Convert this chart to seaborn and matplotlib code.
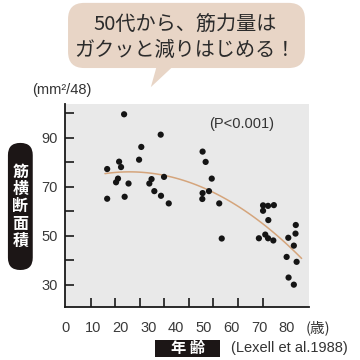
import numpy as np
import pandas as pd
import matplotlib
matplotlib.use("Agg")
import matplotlib.pyplot as plt
import seaborn as sns
from matplotlib.patches import FancyBboxPatch, Polygon, Rectangle

# scatter values (age in years, cross-sectional area)
ages = [15.2, 15.2, 21.3, 19.5, 20.2, 19.1, 18.4, 21.5, 22.9, 26.7, 27.5, 34.5,
        35.7, 31.2, 30.4, 32.2, 34.6, 37.4,
        49.6, 50.7, 52.9, 51.9, 49.6, 49.5, 55.6, 56.5,
        71.4, 73.2, 75.3, 71.4, 73.3, 69.9, 72.2, 73.2, 75.1,
        83.2, 83.1, 80.5, 82.5, 79.9, 83.5, 80.6, 82.5]
area = [77.2, 65.1, 99.5, 80.2, 78.0, 73.3, 71.8, 65.9, 71.3, 81.0, 86.2, 91.2,
        74.0, 73.1, 71.3, 68.2, 66.3, 63.2,
        84.3, 80.1, 73.3, 68.2, 67.4, 65.0, 63.2, 48.9,
        62.4, 62.2, 62.5, 60.2, 56.4, 49.0, 50.5, 49.0, 48.1,
        54.4, 50.9, 49.2, 46.0, 41.4, 39.4, 33.0, 30.1]

# points
curve_x = [14.4, 24.6, 35.4, 51.1, 63.1, 75.1, 85.3]
curve_y = [74.8, 76.5, 75.3, 68.8, 60.6, 51.8, 40.9]

x_labels = [0, 10, 20, 30, 40, 50, 60, 70, 80]
x_marks = [9.4, 18.0, 27.0, 35.7, 44.7, 53.3, 62.3, 71.4, 80.0]
y_labels = [30, 50, 70, 90]
y_minor = [40, 60, 80, 100]

df = pd.DataFrame({"age": ages, "area": area})

sns.set_theme(style="white")
plt.rcParams["font.family"] = ["Liberation Sans", "Noto Sans CJK JP", "DejaVu Sans"]
jp = ["Noto Sans CJK JP", "DejaVu Sans"]

fig = plt.figure(figsize=(3.6, 3.6), dpi=100)
ax = fig.add_axes([0.1806, 0.1472, 0.678, 0.564])
ax.set_facecolor("#e9e9e9")

sns.scatterplot(data=df, x="age", y="area", color="#151515", s=20,
                edgecolor="none", ax=ax, zorder=3)
sns.regplot(x=curve_x, y=curve_y, order=2, scatter=False, ci=None,
            truncate=True, color="#d5a57c", line_kws={"lw": 1.1}, ax=ax)

ax.set_xlim(0, 88)
ax.set_ylim(21, 103.7)
ax.set_xlabel("")
ax.set_ylabel("")

ax.set_xticks(x_labels)
ax.set_xticks(x_marks, minor=True)
ax.tick_params(axis="x", which="major", length=0, pad=10, labelsize=10.5,
               labelcolor="#3a3a3a")
ax.tick_params(axis="x", which="minor", length=6.5, width=1.2, direction="in",
               color="#1a1a1a", bottom=True)
ax.set_yticks(y_labels)
ax.set_yticks(y_minor, minor=True)
ax.tick_params(axis="y", which="both", length=6.5, width=1.2, direction="in",
               color="#1a1a1a", left=True, pad=5, labelsize=10.5,
               labelcolor="#3a3a3a")

for side in ["top", "right"]:
    ax.spines[side].set_visible(False)
for side in ["left", "bottom"]:
    ax.spines[side].set_color("#1a1a1a")
    ax.spines[side].set_linewidth(1.3)

ax.text(0.725, 0.9, "(P<0.001)", transform=ax.transAxes, ha="center",
        va="center", fontsize=10.5, color="#333333")

# speech bubble
fig.patches.append(FancyBboxPatch((0.189, 0.811), 0.658, 0.181,
                                  boxstyle="round,pad=0,rounding_size=0.045",
                                  transform=fig.transFigure, fc="#e8d5c6",
                                  ec="none"))
fig.patches.append(Polygon([(0.435, 0.815), (0.480, 0.815), (0.419, 0.758)],
                           closed=True, transform=fig.transFigure,
                           fc="#e8d5c6", ec="none"))
fig.text(0.515, 0.929, "50代から、筋力量は", ha="center", va="center",
         fontsize=14.5, color="#2b2b2b", family=jp)
fig.text(0.515, 0.861, "ガクッと減りはじめる！", ha="center", va="center",
         fontsize=14.5, color="#2b2b2b", family=jp)

# units
fig.text(0.088, 0.75, "(mm²/48)", ha="left", va="center", fontsize=10.5,
         color="#333333")
fig.text(0.883, 0.09, "(歳)", ha="center", va="center", fontsize=10.5,
         color="#333333", family=jp)

# y-axis label pill
fig.patches.append(FancyBboxPatch((0.022, 0.25), 0.069, 0.353,
                                  boxstyle="round,pad=0,rounding_size=0.034",
                                  transform=fig.transFigure, fc="#1c1616",
                                  ec="none"))
fig.text(0.0565, 0.427, "\n".join("筋横断面積"), ha="center", va="center",
         fontsize=11.5, color="white", linespacing=1.1, family=jp,
         fontweight="bold")

# x-axis label box
fig.patches.append(Rectangle((0.431, 0.008), 0.181, 0.048,
                             transform=fig.transFigure, fc="#1c1616",
                             ec="none"))
fig.text(0.5215, 0.032, "年 齢", ha="center", va="center", fontsize=11,
         color="white", family=jp, fontweight="bold")
fig.text(0.805, 0.032, "(Lexell et al.1988)", ha="center", va="center",
         fontsize=10.5, color="#333333")

fig.savefig("out.png", dpi=100, facecolor="white")
